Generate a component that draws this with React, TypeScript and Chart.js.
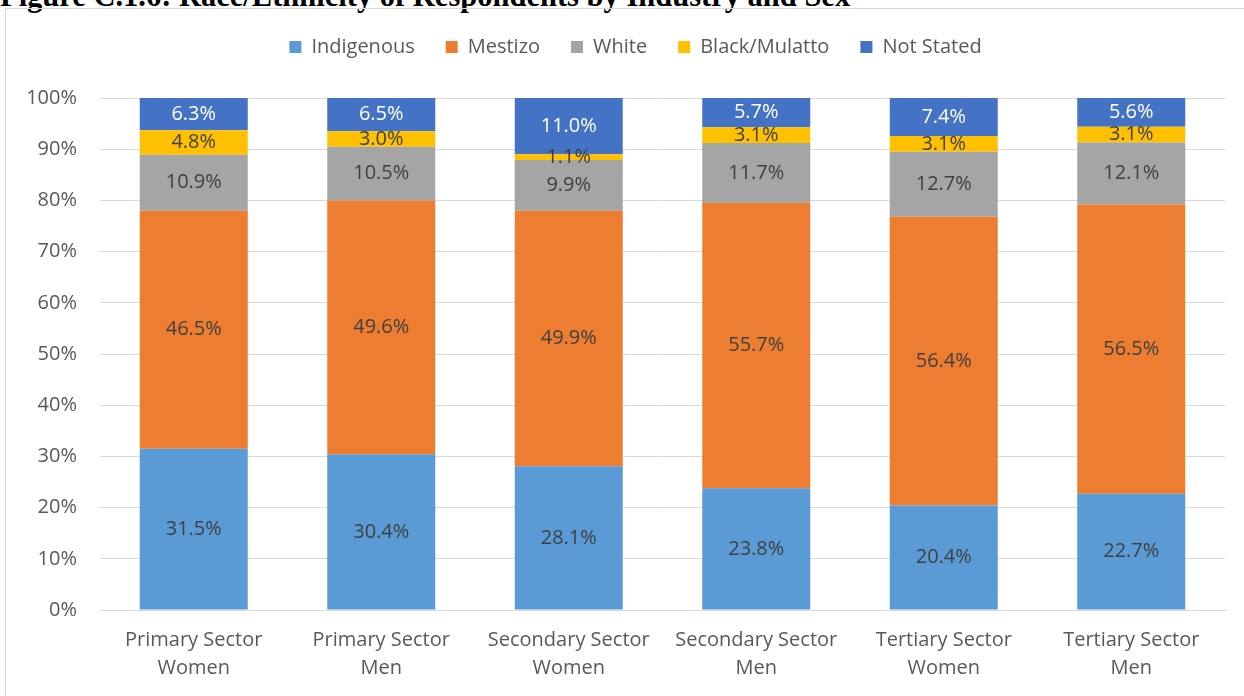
import React, { useEffect, useRef } from "react";
import { Chart, registerables } from "chart.js";

Chart.register(...registerables);

const categories: string[][] = [
  ["Primary Sector", "Women"],
  ["Primary Sector", "Men"],
  ["Secondary Sector", "Women"],
  ["Secondary Sector", "Men"],
  ["Tertiary Sector", "Women"],
  ["Tertiary Sector", "Men"],
];

const indigenous = [31.5, 30.4, 28.1, 23.8, 20.4, 22.7];
const mestizo = [46.5, 49.6, 49.9, 55.7, 56.4, 56.5];
const white = [10.9, 10.5, 9.9, 11.7, 12.7, 12.1];
const blackMulatto = [4.8, 3.0, 1.1, 3.1, 3.1, 3.1];
const notStated = [6.3, 6.5, 11.0, 5.7, 7.4, 5.6];

const seriesNames = ["Indigenous", "Mestizo", "White", "Black/Mulatto", "Not Stated"];
const seriesColors = ["#5B9BD5", "#ED7D31", "#A5A5A5", "#FFC000", "#4472C4"];
const labelColors = ["#404040", "#404040", "#404040", "#404040", "#FFFFFF"];

const FONT = "'Open Sans', 'Noto Sans', sans-serif";

const dataLabelPlugin = {
  id: "dataLabels",
  afterDatasetsDraw(chart: any) {
    const ctx = chart.ctx;
    ctx.save();
    ctx.font = `20px ${FONT}`;
    ctx.textAlign = "center";
    ctx.textBaseline = "middle";
    chart.data.datasets.forEach((ds: any, di: number) => {
      const meta = chart.getDatasetMeta(di);
      meta.data.forEach((el: any, i: number) => {
        const v = ds.data[i];
        const cy = (el.y + el.base) / 2;
        ctx.fillStyle = labelColors[di];
        ctx.fillText(v.toFixed(1) + "%", el.x, cy);
      });
    });
    ctx.restore();
  },
};

const legendSpacePlugin = {
  id: "legendSpace",
  beforeInit(chart: any) {
    if (chart.legend) {
      const origFit = chart.legend.fit;
      chart.legend.fit = function fit() {
        origFit.bind(chart.legend)();
        this.height = 88;
      };
    }
  },
  afterLayout(chart: any) {
    if (chart.legend) {
      chart.legend.left += 15;
      chart.legend.right += 15;
      chart.legend.top -= 4;
      chart.legend.bottom -= 4;
    }
  },
};

export default function App() {
  const canvasRef = useRef<HTMLCanvasElement | null>(null);

  useEffect(() => {
    if (!canvasRef.current) return;
    const allSeries = [indigenous, mestizo, white, blackMulatto, notStated];
    const chart = new Chart(canvasRef.current, {
      type: "bar",
      data: {
        labels: categories,
        datasets: allSeries.map((d, i) => ({
          label: seriesNames[i],
          data: d,
          backgroundColor: seriesColors[i],
          borderWidth: 0,
          barPercentage: 0.576,
          categoryPercentage: 1,
        })),
      },
      options: {
        animation: false,
        responsive: false,
        maintainAspectRatio: false,
        layout: { padding: { top: 1, right: 19, left: 10, bottom: 0 } },
        plugins: {
          legend: {
            position: "top",
            labels: {
              boxWidth: 12,
              boxHeight: 12,
              padding: 31,
              color: "#595959",
              font: { family: FONT, size: 20 },
            },
          },
          tooltip: { enabled: false },
          title: { display: false },
        },
        scales: {
          x: {
            stacked: true,
            grid: { display: false, drawTicks: false },
            border: { display: true, color: "#D9D9D9", width: 1 },
            ticks: {
              color: "#595959",
              padding: 16,
              maxRotation: 0,
              autoSkip: false,
              font: { family: FONT, size: 20, lineHeight: 1.4 },
            },
            afterFit(scale: any) {
              scale.height = 86;
            },
          },
          y: {
            stacked: true,
            min: 0,
            max: 100,
            grid: { color: "#D9D9D9", drawTicks: false, lineWidth: 1 },
            border: { display: false },
            ticks: {
              stepSize: 10,
              color: "#595959",
              padding: 23,
              font: { family: FONT, size: 20 },
              callback: (v: any) => v + "%",
            },
            afterFit(scale: any) {
              scale.width = 84;
            },
          },
        },
      },
      plugins: [dataLabelPlugin, legendSpacePlugin],
    });
    return () => chart.destroy();
  }, []);

  return (
    <div
      style={{
        position: "absolute",
        left: 0,
        top: 0,
        width: 1244,
        height: 696,
        overflow: "hidden",
        background: "#FFFFFF",
      }}
    >
      <div
        style={{
          position: "absolute",
          left: 0,
          top: -19,
          whiteSpace: "nowrap",
          fontFamily: "'Liberation Serif', 'Times New Roman', serif",
          fontWeight: "bold",
          fontSize: 30.5,
          lineHeight: "30px",
          color: "#000000",
        }}
      >
        Figure C.1.6: Race/Ethnicity of Respondents by Industry and Sex
      </div>
      <div
        style={{
          position: "absolute",
          left: 5,
          top: 8,
          width: 1300,
          height: 800,
          border: "1px solid #D9D9D9",
          boxSizing: "border-box",
          background: "transparent",
        }}
      />
      <canvas
        ref={canvasRef}
        width={1238}
        height={687}
        style={{ position: "absolute", left: 6, top: 9, width: 1238, height: 687 }}
      />
    </div>
  );
}
